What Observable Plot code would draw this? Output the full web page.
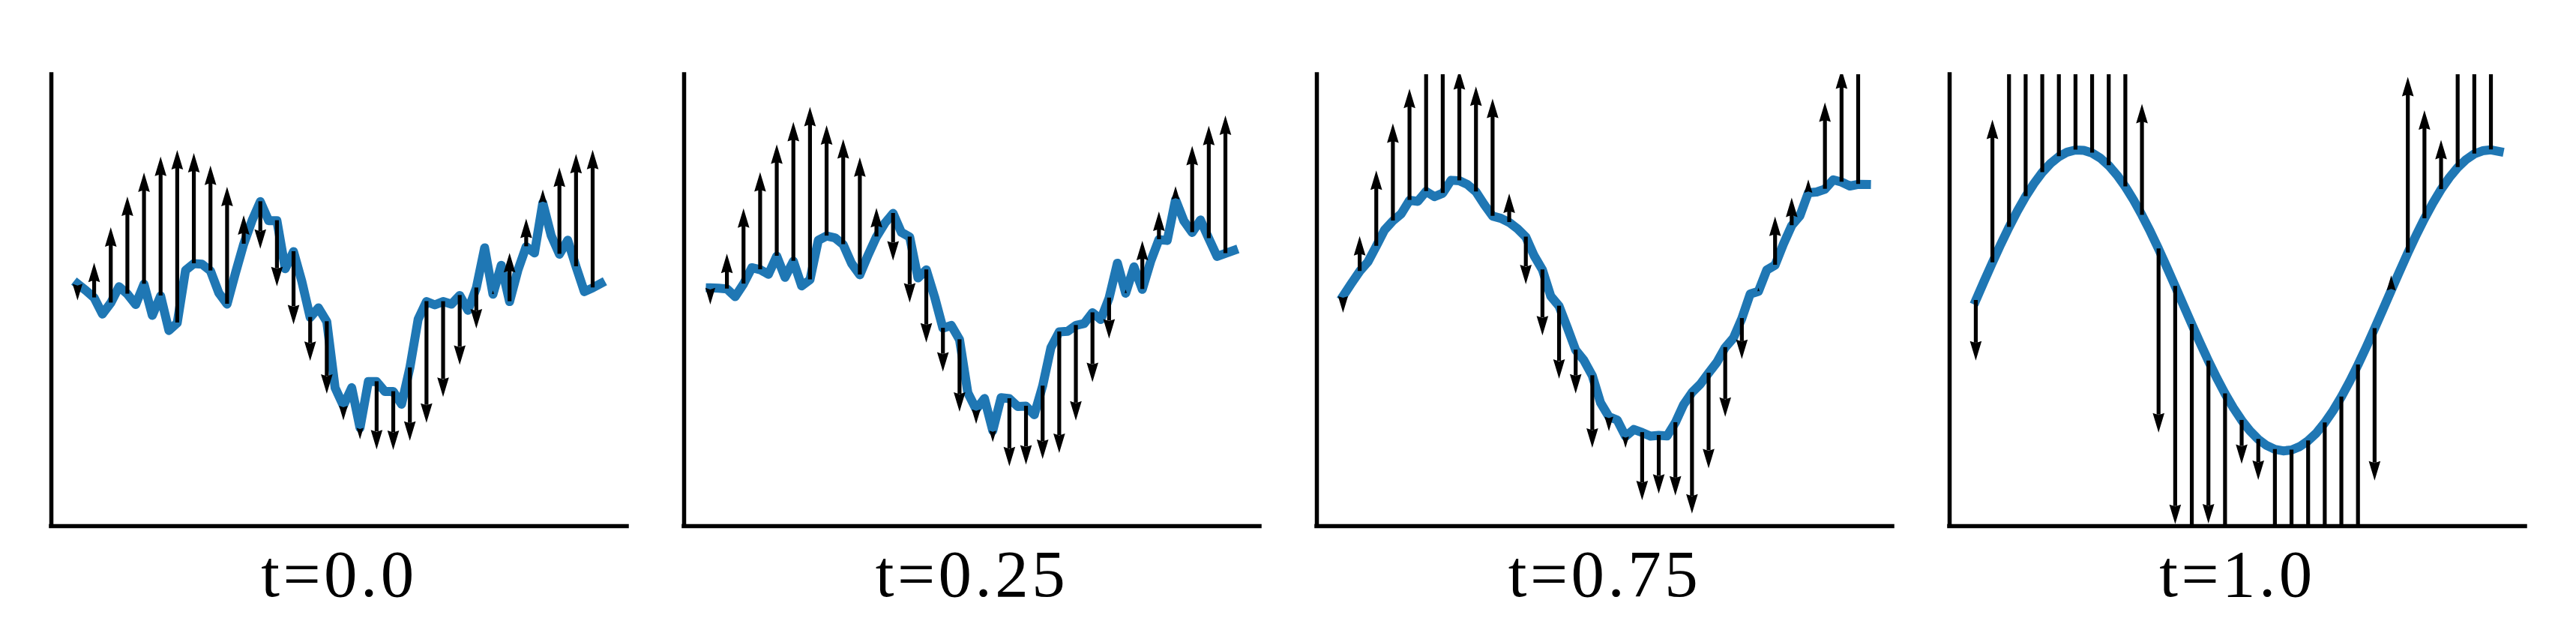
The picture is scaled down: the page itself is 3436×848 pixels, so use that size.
<!DOCTYPE html>
<html>
<head>
<meta charset="utf-8">
<script src="https://cdn.jsdelivr.net/npm/d3@7"></script>
<script src="https://cdn.jsdelivr.net/npm/@observablehq/plot@0.6"></script>
<style>
  html, body { margin: 0; padding: 0; background: #fff; overflow: hidden; }
  #chart svg [aria-label="fx-axis tick label"] text { letter-spacing: 4.5px; }
</style>
</head>
<body>
<div id="chart"></div>
<script>
// ---- panel labels ----
const tLabels = ["t=0.0", "t=0.25", "t=0.75", "t=1.0"];

// ---- curve values (64 samples per panel) ----
const y_t00 = [0.11, 0.066, 0.017, -0.091, -0.017, 0.091, 0.042, -0.028, 0.108, -0.10,
  0.03, -0.20, -0.15, 0.20, 0.244, 0.24, 0.196, 0.05, -0.025, 0.18,
  0.374, 0.53, 0.656, 0.53, 0.53, 0.21, 0.324, 0.125, -0.113, -0.05,
  -0.141, -0.58, -0.70, -0.58, -0.847, -0.54, -0.54, -0.606, -0.606, -0.69,
  -0.448, -0.125, -0.008, -0.03, -0.008, -0.025, 0.033, -0.066, 0.083, 0.349,
  0.041, 0.233, -0.008, 0.20, 0.357, 0.315, 0.648, 0.432, 0.307, 0.40,
  0.224, 0.058, 0.083, 0.113];

const y_t025 = [0.083, 0.081, 0.076, 0.025, 0.109, 0.217, 0.204, 0.173, 0.294, 0.153,
  0.261, 0.096, 0.137, 0.399, 0.428, 0.416, 0.371, 0.246, 0.170, 0.302,
  0.422, 0.512, 0.578, 0.452, 0.421, 0.149, 0.203, 0.023, -0.185, -0.166,
  -0.261, -0.614, -0.724, -0.652, -0.866, -0.646, -0.653, -0.705, -0.703, -0.760,
  -0.569, -0.314, -0.209, -0.206, -0.166, -0.154, -0.082, -0.127, 0.016, 0.247,
  0.047, 0.223, 0.073, 0.258, 0.404, 0.398, 0.670, 0.528, 0.451, 0.534,
  0.411, 0.292, 0.312, 0.332];

const y_t075 = [0.028, 0.112, 0.193, 0.256, 0.360, 0.468, 0.528, 0.575, 0.665, 0.658,
  0.724, 0.689, 0.712, 0.798, 0.795, 0.769, 0.721, 0.637, 0.560, 0.545,
  0.518, 0.476, 0.421, 0.297, 0.203, 0.028, -0.038, -0.181, -0.330, -0.399,
  -0.500, -0.681, -0.773, -0.795, -0.904, -0.858, -0.878, -0.902, -0.897, -0.901,
  -0.812, -0.692, -0.612, -0.557, -0.483, -0.411, -0.313, -0.249, -0.120, 0.042,
  0.060, 0.202, 0.234, 0.374, 0.497, 0.563, 0.715, 0.720, 0.739, 0.801,
  0.786, 0.760, 0.771, 0.770];

const y_t100 = [0, 0.127, 0.251, 0.372, 0.486, 0.593, 0.690, 0.776, 0.850, 0.910,
  0.955, 0.985, 0.999, 0.997, 0.979, 0.945, 0.896, 0.832, 0.755, 0.666,
  0.566, 0.458, 0.342, 0.219, 0.094, -0.033, -0.159, -0.283, -0.402, -0.515,
  -0.620, -0.714, -0.797, -0.867, -0.923, -0.964, -0.990, -1.000, -0.994, -0.971,
  -0.933, -0.881, -0.813, -0.733, -0.641, -0.539, -0.428, -0.310, -0.187, -0.061,
  0.066, 0.192, 0.315, 0.432, 0.543, 0.645, 0.737, 0.816, 0.883, 0.935,
  0.973, 0.994, 1.000, 0.989];

// ---- arrow (vector) values at every other sample (32 per panel) ----
const arrowStride = 2;
const v_early = [-0.11, 0.234, 0.503, 0.648, 0.742, 0.925, 1.149, 0.735, 0.700, 0.780,
  0.192, -0.314, -0.436, -0.483, -0.289, -0.479, -0.097, -0.076, -0.450, -0.388,
  -0.485, -0.805, -0.633, -0.461, -0.270, 0.025, 0.323, 0.186, 0.089, 0.576,
  0.749, 0.917];
const v_t100 = [-0.40, 0.95, 2.01, 2.59, 2.97, 3.70, 4.60, 2.94, 2.80, 3.12,
  0.74, -1.22, -1.58, -1.93, -1.08, -1.92, -0.29, -0.27, -1.80, -1.55,
  -1.94, -3.22, -2.53, -1.84, -1.01, 0.10, 1.17, 0.72, 0.33, 2.30,
  3.00, 3.67];

// ---- axis limits ----
const xDomain = [-3.15, 66.15];
const yDomain = [-1.5, 1.5];

// ---- tables for Plot ----
const curves = [y_t00, y_t025, y_t075, y_t100];
const vectors = [v_early, v_early, v_early, v_t100];
const lineRows = [];
curves.forEach((ys, p) => ys.forEach((y, i) => lineRows.push({t: tLabels[p], i, y})));
const arrowRows = [];
vectors.forEach((vs, p) => vs.forEach((v, k) => {
  const i = k * arrowStride;
  arrowRows.push({t: tLabels[p], i, y: curves[p][i], v, tip: curves[p][i] + v});
}));

// ---- quiver-like arrow styling ----
const W = 5.2;            // shaft width (px)
const HL = 5 * W;         // head length
const HA = 4.5 * W;       // head axis length
const HW = 1.5 * W;       // head half-width
const plotH = 848 - 99 - 147;
const headUnits = HL / (plotH / (yDomain[1] - yDomain[0]));

const headUp = {draw(ctx, size) {
  const s = Math.sqrt(size / Math.PI);
  ctx.moveTo(0, 0); ctx.lineTo(-HW * s, HL * s); ctx.lineTo(0, HA * s); ctx.lineTo(HW * s, HL * s); ctx.closePath();
}};
const headDown = {draw(ctx, size) {
  const s = Math.sqrt(size / Math.PI);
  ctx.moveTo(0, 0); ctx.lineTo(-HW * s, -HL * s); ctx.lineTo(0, -HA * s); ctx.lineTo(HW * s, -HL * s); ctx.closePath();
}};
const shrink = d => Math.min(1, Math.abs(d.v) / headUnits);

const chart = Plot.plot({
  width: 3436,
  height: 848,
  marginLeft: 68,
  marginRight: 68,
  marginTop: 99,
  marginBottom: 147,
  x: {domain: xDomain, axis: null},
  y: {domain: yDomain, axis: null},
  fx: {domain: tLabels, paddingInner: 76 / 844, paddingOuter: 0, round: false, label: null},
  r: {type: "identity"},
  style: {background: "white", fontFamily: "'Liberation Serif', serif", overflow: "visible"},
  marks: [
    Plot.axisFx({anchor: "bottom", tickSize: 0, tickPadding: 30, fontSize: 89, label: null,
      fontFamily: "'Liberation Serif', serif", fill: "black"}),
    Plot.line(lineRows, {fx: "t", x: "i", y: "y", stroke: "#1f77b4", strokeWidth: 12,
      strokeLinecap: "square", strokeLinejoin: "round"}),
    // shafts of upward arrows (y1 = tip so the inset trims the head end)
    Plot.ruleX(arrowRows.filter(d => d.v > headUnits), {fx: "t", x: "i", y1: "tip", y2: "y",
      stroke: "black", strokeWidth: W, insetTop: HA, clip: true}),
    // shafts of downward arrows
    Plot.ruleX(arrowRows.filter(d => d.v < -headUnits), {fx: "t", x: "i", y1: "y", y2: "tip",
      stroke: "black", strokeWidth: W, insetBottom: HA, clip: true}),
    Plot.dot(arrowRows.filter(d => d.v > 0), {fx: "t", x: "i", y: "tip", r: shrink,
      symbol: headUp, fill: "black", stroke: "none", clip: true}),
    Plot.dot(arrowRows.filter(d => d.v < 0), {fx: "t", x: "i", y: "tip", r: shrink,
      symbol: headDown, fill: "black", stroke: "none", clip: true}),
    // left and bottom spines
    Plot.ruleX(xDomain.slice(0, 1), {stroke: "black", strokeWidth: 5.5, strokeLinecap: "square"}),
    Plot.ruleY(yDomain.slice(0, 1), {stroke: "black", strokeWidth: 5.5, strokeLinecap: "square"})
  ]
});
document.getElementById("chart").appendChild(chart);
</script>
</body>
</html>
